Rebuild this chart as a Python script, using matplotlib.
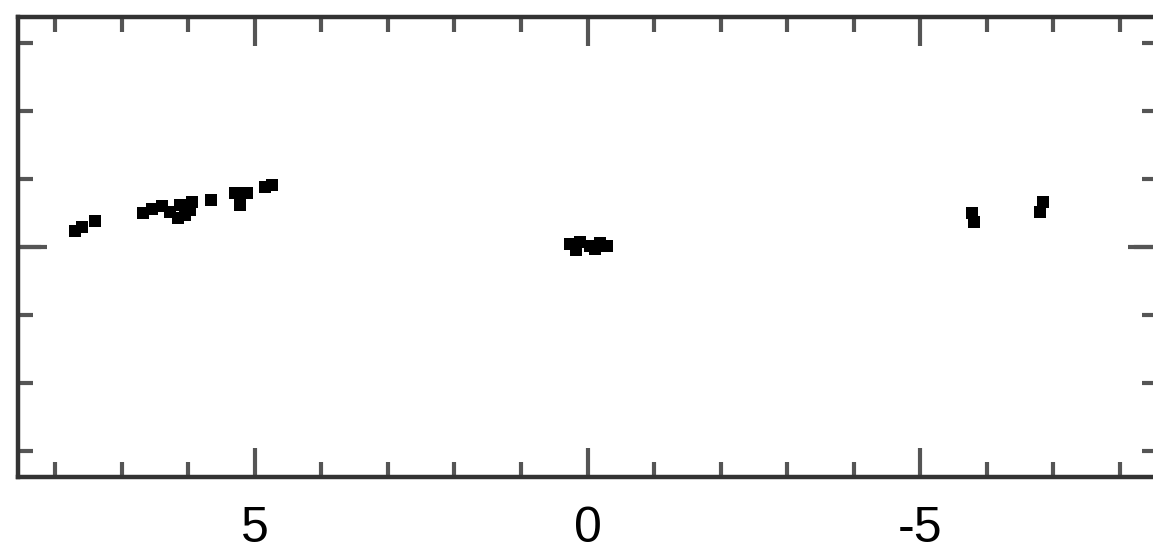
import matplotlib.pyplot as plt
from matplotlib.ticker import MultipleLocator

# offsets of the sources (x inverted like RA)
left_x = [7.71, 7.60, 7.41, 6.68, 6.55, 6.40, 6.28, 6.13, 5.98, 6.16, 5.95, 6.05, 5.66, 5.30, 5.12, 5.23, 4.85, 4.74]
left_y = [0.24, 0.30, 0.38, 0.50, 0.56, 0.60, 0.51, 0.62, 0.54, 0.43, 0.66, 0.47, 0.69, 0.79, 0.79, 0.62, 0.88, 0.91]

core_x = [0.26, 0.11, -0.04, -0.19, -0.29, 0.18, -0.12]
core_y = [0.04, 0.07, 0.01, 0.06, 0.01, -0.04, -0.03]

right_x = [-5.78, -5.81, -6.85, -6.80]
right_y = [0.50, 0.37, 0.66, 0.51]

xticklabels = ['5', '0', '-5']

plt.rcParams['axes.unicode_minus'] = False
plt.rcParams['font.family'] = ['Liberation Sans', 'DejaVu Sans']

fig = plt.figure(figsize=(11.53, 5.57), dpi=100)
ax = fig.add_axes([18 / 1153, 80 / 557, 1139 / 1153, 460 / 557])

for xs, ys in [(left_x, left_y), (core_x, core_y), (right_x, right_y)]:
    ax.plot(xs, ys, 's', color='black', markersize=8, markeredgewidth=0)

ax.set_xlim(8.56, -8.56)
ax.set_ylim(-3.38, 3.38)

ax.xaxis.set_major_locator(MultipleLocator(5))
ax.xaxis.set_minor_locator(MultipleLocator(1))
ax.yaxis.set_major_locator(MultipleLocator(5))
ax.yaxis.set_minor_locator(MultipleLocator(1))
ax.set_xticks([5, 0, -5])
ax.set_xticklabels(xticklabels)
ax.set_yticklabels([])

ax.tick_params(which='both', direction='in', top=True, right=True, color='#555555', width=3)
ax.tick_params(which='major', length=21, labelsize=36, pad=21)
ax.tick_params(which='minor', length=11)
# y=0 gets a long tick too
ax.axhline(0, xmin=0, xmax=21 / 1139, color='#555555', lw=3)
ax.axhline(0, xmin=1 - 21 / 1139, xmax=1, color='#555555', lw=3)

for s in ax.spines.values():
    s.set_linewidth(3.2)
    s.set_color('#333333')

fig.savefig('out.png', dpi=100)
